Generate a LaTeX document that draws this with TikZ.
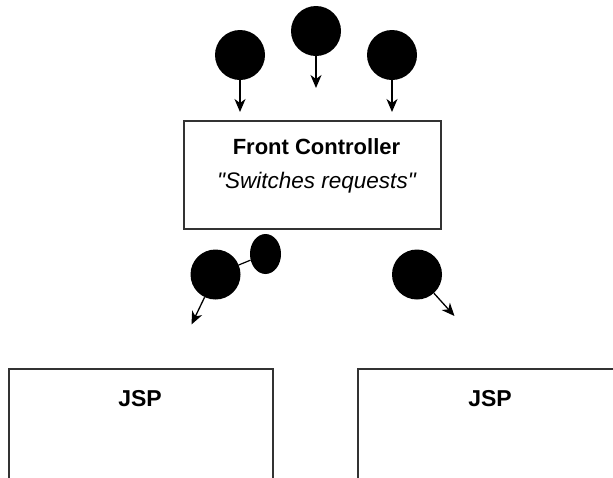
\documentclass[tikz,border=0pt]{standalone}
\usepackage{fontspec}
\setmainfont{Liberation Sans}
\usetikzlibrary{arrows.meta,shapes.geometric}
\tikzset{
  dot/.style={circle,fill=black,draw=none,minimum size=50pt,inner sep=0pt},
  smalldot/.style={ellipse,fill=black,draw=none,minimum width=31pt,minimum height=40pt,inner sep=0pt},
  arr/.style={line width=1.3pt,-{Stealth[length=13pt,width=11pt,inset=4pt]}},
  link/.style={line width=1.2pt},
  boxline/.style={draw=black!80,line width=1.3pt},
  title/.style={font=\fontsize{22}{25}\selectfont\bfseries},
}
\begin{document}
\begin{tikzpicture}[x=1pt,y=-1pt]
\useasboundingbox (0,0) rectangle (613,477);
\clip (0,0) rectangle (613,477);
% front controller
\node[boxline,rectangle,minimum width=257pt,minimum height=108pt,inner sep=0pt] (fc) at (312.5,175) {};
\node[title] (fct) at (316.5,147) {Front Controller};
\node[font=\fontsize{22.5}{26}\selectfont\itshape] (fcs) at (316.5,183) {\textquotedbl Switches requests\textquotedbl};
% top dots
\node[dot] (c1) at (240,55) {};
\node[dot] (c2) at (316,31) {};
\node[dot] (c3) at (392,55) {};
\coordinate (a1) at (240,112);
\coordinate (a2) at (316,88);
\coordinate (a3) at (392,112);
\draw[arr] (c1) -- (a1);
\draw[arr] (c2) -- (a2);
\draw[arr] (c3) -- (a3);
% lower dots
\node[dot] (c4) at (215.5,274.5) {};
\node[smalldot] (e1) at (265.5,254) {};
\node[dot] (c5) at (417,274.5) {};
\draw[link] (c4) -- (e1);
\coordinate (a4) at (191.5,324.5);
\coordinate (a5) at (454.5,316);
\draw[arr] (c4) -- (a4);
\draw[arr] (c5) -- (a5);
% JSP boxes
\node[boxline,rectangle,minimum width=264pt,minimum height=160pt,inner sep=0pt] (j1) at (141,449) {};
\node[boxline,rectangle,minimum width=264pt,minimum height=160pt,inner sep=0pt] (j2) at (490,449) {};
\node[title,font=\fontsize{23}{26}\selectfont\bfseries] (j1t) at (140,399) {JSP};
\node[title,font=\fontsize{23}{26}\selectfont\bfseries] (j2t) at (490,399) {JSP};
\end{tikzpicture}
\end{document}
